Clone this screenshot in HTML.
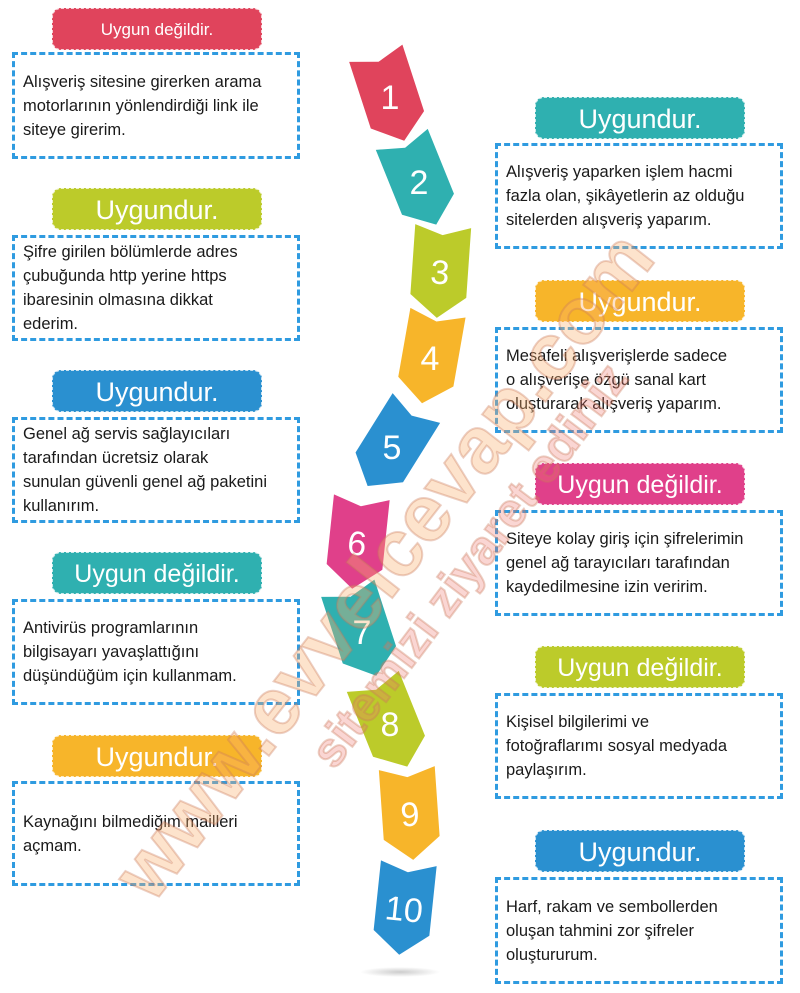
<!DOCTYPE html>
<html><head><meta charset="utf-8">
<style>
body{margin:0;width:800px;height:993px;background:#fff;position:relative;overflow:hidden;font-family:"Liberation Sans","DejaVu Sans",sans-serif;}
.pill{position:absolute;width:210px;height:42px;border-radius:9px;color:#fff;text-align:center;line-height:42px;box-sizing:border-box;border:1.5px dashed rgba(255,255,255,0.75)}
.box{position:absolute;width:288px;box-sizing:border-box;border:3px dashed #2f9be0;display:flex;align-items:center;padding:0 4px 0 8px;font-size:16.5px;line-height:24px;color:#1a1a1a;white-space:nowrap}
.wm{position:absolute;font-weight:bold;white-space:nowrap;color:rgba(250,175,110,0.35);-webkit-text-stroke:2px rgba(200,120,90,0.35);transform-origin:0 0}
</style></head><body>
<!-- left -->
<div class="pill" style="left:52px;top:8px;background:#e0445c;font-size:17px">Uygun değildir.</div>
<div class="box" style="left:12px;top:52px;height:107px"><div>Alışveriş sitesine girerken arama<br>motorlarının yönlendirdiği link ile<br>siteye girerim.</div></div>
<div class="pill" style="left:52px;top:188px;background:#bccb2a;font-size:27px">Uygundur.</div>
<div class="box" style="left:12px;top:235px;height:106px"><div>Şifre girilen bölümlerde adres<br>çubuğunda http yerine https<br>ibaresinin olmasına dikkat<br>ederim.</div></div>
<div class="pill" style="left:52px;top:370px;background:#2a90d0;font-size:27px">Uygundur.</div>
<div class="box" style="left:12px;top:417px;height:106px"><div>Genel ağ servis sağlayıcıları<br>tarafından ücretsiz olarak<br>sunulan güvenli genel ağ paketini<br>kullanırım.</div></div>
<div class="pill" style="left:52px;top:552px;background:#2fb0b0;font-size:25px">Uygun değildir.</div>
<div class="box" style="left:12px;top:599px;height:106px"><div>Antivirüs programlarının<br>bilgisayarı yavaşlattığını<br>düşündüğüm için kullanmam.</div></div>
<div class="pill" style="left:52px;top:735px;background:#f7b52a;font-size:27px">Uygundur.</div>
<div class="box" style="left:12px;top:781px;height:105px"><div>Kaynağını bilmediğim mailleri<br>açmam.</div></div>
<!-- right -->
<div class="pill" style="left:535px;top:97px;background:#2fb0b0;font-size:27px">Uygundur.</div>
<div class="box" style="left:495px;top:143px;height:106px"><div>Alışveriş yaparken işlem hacmi<br>fazla olan, şikâyetlerin az olduğu<br>sitelerden alışveriş yaparım.</div></div>
<div class="pill" style="left:535px;top:280px;background:#f7b52a;font-size:27px">Uygundur.</div>
<div class="box" style="left:495px;top:327px;height:106px"><div>Mesafeli alışverişlerde sadece<br>o alışverişe özgü sanal kart<br>oluşturarak alışveriş yaparım.</div></div>
<div class="pill" style="left:535px;top:463px;background:#e0408a;font-size:25px">Uygun değildir.</div>
<div class="box" style="left:495px;top:510px;height:106px"><div>Siteye kolay giriş için şifrelerimin<br>genel ağ tarayıcıları tarafından<br>kaydedilmesine izin veririm.</div></div>
<div class="pill" style="left:535px;top:646px;background:#bccb2a;font-size:25px">Uygun değildir.</div>
<div class="box" style="left:495px;top:693px;height:106px"><div>Kişisel bilgilerimi ve<br>fotoğraflarımı sosyal medyada<br>paylaşırım.</div></div>
<div class="pill" style="left:535px;top:830px;background:#2a90d0;font-size:27px">Uygundur.</div>
<div class="box" style="left:495px;top:877px;height:107px"><div>Harf, rakam ve sembollerden<br>oluşan tahmini zor şifreler<br>oluştururum.</div></div>

<svg style="position:absolute;left:0;top:0" width="800" height="993">
<defs>
<polygon id="ch" points="-28,-46 0,-37 28,-46 28,24 0,46 -28,24"/>
<radialGradient id="sh"><stop offset="0" stop-color="#ccc"/><stop offset="1" stop-color="#fff"/></radialGradient>
</defs>
<ellipse cx="400" cy="972" rx="40" ry="5" fill="url(#sh)"/>
<g font-family="Liberation Sans,sans-serif" font-size="34" fill="#fff" text-anchor="middle">
<g transform="translate(390,97) rotate(-18)"><use href="#ch" fill="#e0445c"/><text y="12" transform="rotate(18)">1</text></g>
<g transform="translate(419,182) rotate(-22)"><use href="#ch" fill="#2fb0b0"/><text y="12" transform="rotate(22)">2</text></g>
<g transform="translate(440,272) rotate(4)"><use href="#ch" fill="#bccb2a"/><text y="12">3</text></g>
<g transform="translate(430,358) rotate(10)"><use href="#ch" fill="#f7b52a"/><text y="12" transform="rotate(-10)">4</text></g>
<g transform="translate(392,447) rotate(32)"><use href="#ch" fill="#2a90d0"/><text y="12" transform="rotate(-32)">5</text></g>
<g transform="translate(357,543) rotate(6)"><use href="#ch" fill="#e0408a"/><text y="12">6</text></g>
<g transform="translate(362,632) rotate(-18)"><use href="#ch" fill="#2fb0b0"/><text y="12" transform="rotate(18)">7</text></g>
<g transform="translate(390,724) rotate(-22)"><use href="#ch" fill="#bccb2a"/><text y="12" transform="rotate(22)">8</text></g>
<g transform="translate(410,814) rotate(-4)"><use href="#ch" fill="#f7b52a"/><text y="12">9</text></g>
<g transform="translate(404,909) rotate(6)"><use href="#ch" fill="#2a90d0"/><text y="12">10</text></g>
</g>
</svg>
<div class="wm" style="left:95px;top:860px;font-size:80px;transform:rotate(-52deg)">www.evvelcevap.com</div>
<div class="wm" style="left:300px;top:745px;font-size:48px;transform:rotate(-53deg);color:rgba(240,120,110,0.3)">sitemizi ziyaret ediniz</div>
</body></html>
